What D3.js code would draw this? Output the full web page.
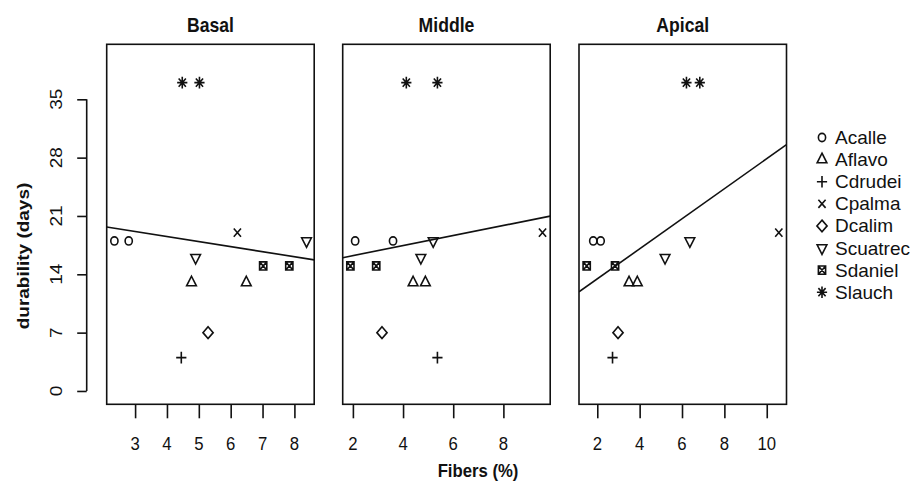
<!DOCTYPE html>
<html>
    <head>
        <script type="text/javascript" src="https://d3js.org/d3.v7.min.js" charset="utf-8"></script>
        <style>
            body { margin: 0; background: #fff; }
            text { font-family: 'Liberation Sans', Arial, Helvetica, sans-serif; fill: #111; }
        </style>
    </head>
    <body>
        <script>
            // ---- data ----
            const PANELS = ['Basal', 'Middle', 'Apical'];
            const SPECIES = ['Acalle', 'Aflavo', 'Cdrudei', 'Cpalma', 'Dcalim', 'Scuatrec', 'Sdaniel', 'Slauch'];

            // one entry per observation
            const pointSpecies = ['Acalle', 'Acalle', 'Aflavo', 'Aflavo', 'Cdrudei', 'Cpalma', 'Dcalim',
                'Scuatrec', 'Scuatrec', 'Sdaniel', 'Sdaniel', 'Slauch', 'Slauch'];
            const durability = [18, 18, 13, 13, 4, 19, 7, 16, 18, 15, 15, 37, 37];
            const fibersBasal = [2.35, 2.8, 4.77, 6.49, 4.45, 6.21, 5.29, 4.9, 8.38, 7.02, 7.84, 4.48, 5.02];
            const fibersMiddle = [2.09, 3.6, 4.4, 4.89, 5.37, 9.56, 3.16, 4.71, 5.2, 1.9, 2.93, 4.13, 5.37];
            const fibersApical = [1.81, 2.16, 3.5, 3.89, 2.72, 10.57, 2.98, 5.2, 6.37, 1.5, 2.84, 6.21, 6.84];

            const yTicks = [0, 7, 14, 21, 28, 35];
            const yLimits = [0, 40];
            const xTicksBasal = [3, 4, 5, 6, 7, 8];
            const xTicksMiddle = [2, 4, 6, 8];
            const xTicksApical = [2, 4, 6, 8, 10];

            // ---- layout ----
            const WIDTH = 919;
            const HEIGHT = 482;
            const PANEL_LEFT = [106.7, 342.7, 579];
            const PANEL_WIDTH = 207.5;
            const PANEL_TOP = 44.3;
            const PANEL_BOTTOM = 404.3;
            const SQUEEZE = 0.88; // the picture is narrower than tall, text looks squeezed
            const LINE_W = 1.6;
            const SYM = 4.1;      // base symbol radius

            const fibersByPanel = [fibersBasal, fibersMiddle, fibersApical];
            const xTicksByPanel = [xTicksBasal, xTicksMiddle, xTicksApical];
            const pchOf = {};
            SPECIES.forEach(function(s, i){ pchOf[s] = i + 1; });

            let svg = d3.select('body')
            .append('svg')
            .attr('width', WIDTH)
            .attr('height', HEIGHT);

            // R style 4% padding
            function padded(lo, hi)
            {
                let p = (hi - lo) * 0.04;
                return [lo - p, hi + p];
            }

            let yScale = d3.scaleLinear()
            .domain(padded(yLimits[0], yLimits[1]))
            .range([PANEL_BOTTOM, PANEL_TOP]);

            // R plotting symbols 1..8
            function symbolPath(pch)
            {
                let s = SYM;
                let k = SQUEEZE;
                let p = d3.path();
                let t0 = 1.5551, t1 = 1.3468, t2 = 0.7776;
                if (pch == 1) {
                    return null;
                } else if (pch == 2) {
                    p.moveTo(0, -t0 * s); p.lineTo(t1 * s * k, t2 * s); p.lineTo(-t1 * s * k, t2 * s); p.closePath();
                } else if (pch == 3) {
                    let a = Math.SQRT2 * s;
                    p.moveTo(-a * k, 0); p.lineTo(a * k, 0); p.moveTo(0, -a); p.lineTo(0, a);
                } else if (pch == 4) {
                    p.moveTo(-s * k, -s); p.lineTo(s * k, s); p.moveTo(-s * k, s); p.lineTo(s * k, -s);
                } else if (pch == 5) {
                    let a = Math.SQRT2 * s;
                    p.moveTo(0, -a); p.lineTo(a * k, 0); p.lineTo(0, a); p.lineTo(-a * k, 0); p.closePath();
                } else if (pch == 6) {
                    p.moveTo(0, t0 * s); p.lineTo(t1 * s * k, -t2 * s); p.lineTo(-t1 * s * k, -t2 * s); p.closePath();
                } else if (pch == 7) {
                    p.rect(-s * k, -s, 2 * s * k, 2 * s);
                    p.moveTo(-s * k, -s); p.lineTo(s * k, s); p.moveTo(-s * k, s); p.lineTo(s * k, -s);
                } else if (pch == 8) {
                    p.moveTo(-s * k, -s); p.lineTo(s * k, s); p.moveTo(-s * k, s); p.lineTo(s * k, -s);
                    let a = Math.SQRT2 * s;
                    p.moveTo(-a * k, 0); p.lineTo(a * k, 0); p.moveTo(0, -a); p.lineTo(0, a);
                }
                return p.toString();
            }

            function drawSymbol(g, pch, x, y)
            {
                if (pch == 1) {
                    g.append('ellipse')
                    .attr('cx', x).attr('cy', y)
                    .attr('rx', SYM * SQUEEZE).attr('ry', SYM)
                    .attr('fill', 'none').attr('stroke', '#111').attr('stroke-width', LINE_W);
                } else {
                    g.append('path')
                    .attr('d', symbolPath(pch))
                    .attr('transform', 'translate(' + x + ',' + y + ')')
                    .attr('fill', 'none').attr('stroke', '#111').attr('stroke-width', LINE_W);
                }
            }

            function hText(g, x, y, str, size, bold)
            {
                return g.append('text')
                .attr('transform', 'translate(' + x + ',' + y + ') scale(' + SQUEEZE + ',1)')
                .attr('text-anchor', 'middle')
                .style('font-size', size + 'px')
                .style('font-weight', bold ? 'bold' : 'normal')
                .text(str);
            }

            function vText(g, x, y, str, size, bold)
            {
                return g.append('text')
                .attr('transform', 'translate(' + x + ',' + y + ') rotate(-90) scale(1,' + SQUEEZE + ')')
                .attr('text-anchor', 'middle')
                .style('font-size', size + 'px')
                .style('font-weight', bold ? 'bold' : 'normal')
                .text(str);
            }

            // least squares line of durability on fibers
            function fitLine(xs, ys)
            {
                let mx = d3.mean(xs), my = d3.mean(ys);
                let sxy = d3.sum(xs, function(x, i){ return (x - mx) * (ys[i] - my); });
                let sxx = d3.sum(xs, function(x){ return (x - mx) * (x - mx); });
                let b = sxy / sxx;
                return { a: my - b * mx, b: b };
            }

            PANELS.forEach(function(name, pi){
                let fibers = fibersByPanel[pi];
                let x0 = PANEL_LEFT[pi];
                let xScale = d3.scaleLinear()
                .domain(padded(d3.min(fibers), d3.max(fibers)))
                .range([x0, x0 + PANEL_WIDTH]);

                let g = svg.append('g');

                g.append('clipPath').attr('id', 'clip' + pi)
                .append('rect')
                .attr('x', x0).attr('y', PANEL_TOP)
                .attr('width', PANEL_WIDTH).attr('height', PANEL_BOTTOM - PANEL_TOP);

                // regression line
                let fit = fitLine(fibers, durability);
                let dom = xScale.domain();
                g.append('line')
                .attr('clip-path', 'url(#clip' + pi + ')')
                .attr('x1', xScale(dom[0])).attr('y1', yScale(fit.a + fit.b * dom[0]))
                .attr('x2', xScale(dom[1])).attr('y2', yScale(fit.a + fit.b * dom[1]))
                .attr('stroke', '#111').attr('stroke-width', LINE_W);

                // points
                fibers.forEach(function(f, i){
                    drawSymbol(g, pchOf[pointSpecies[i]], xScale(f), yScale(durability[i]));
                });

                // box
                g.append('rect')
                .attr('x', x0).attr('y', PANEL_TOP)
                .attr('width', PANEL_WIDTH).attr('height', PANEL_BOTTOM - PANEL_TOP)
                .attr('fill', 'none').attr('stroke', '#111').attr('stroke-width', LINE_W);

                // x axis
                let xAxis = g.append('g')
                .attr('transform', 'translate(0,' + PANEL_BOTTOM + ')')
                .call(d3.axisBottom(xScale).tickValues(xTicksByPanel[pi]).tickSize(14).tickSizeOuter(0).tickFormat(''));
                xAxis.select('.domain').remove();
                xAxis.selectAll('line').attr('stroke', '#111').attr('stroke-width', LINE_W);
                xTicksByPanel[pi].forEach(function(t){
                    hText(g, xScale(t), 449.5, String(t), 19, false);
                });

                // title
                hText(g, x0 + PANEL_WIDTH / 2, 31.5, name, 20, true);

                // y axis only on the first panel
                if (pi == 0) {
                    let yAxis = g.append('g')
                    .attr('transform', 'translate(86.7,0)')
                    .call(d3.axisLeft(yScale).tickValues(yTicks).tickSize(9.5).tickSizeOuter(0).tickFormat(''));
                    yAxis.select('.domain')
                    .attr('d', 'M0,' + yScale(yTicks[0]) + 'V' + yScale(yTicks[yTicks.length - 1]))
                    .attr('stroke', '#111').attr('stroke-width', LINE_W);
                    yAxis.selectAll('line').attr('stroke', '#111').attr('stroke-width', LINE_W);
                    yTicks.forEach(function(t){
                        vText(g, 61.5, yScale(t), String(t), 19, false);
                    });
                }
            });

            // axis titles
            vText(svg, 29, 256, 'durability (days)', 19, true);
            hText(svg, 478, 477, 'Fibers (%)', 19, true);

            // legend
            let legend = svg.append('g');
            SPECIES.forEach(function(s, i){
                let y = 137.5 + i * 22.1;
                drawSymbol(legend, pchOf[s], 822, y);
                legend.append('text')
                .attr('x', 835).attr('y', y + 6.5)
                .style('font-size', '19px')
                .text(s);
            });
        </script>
    </body>
</html>
